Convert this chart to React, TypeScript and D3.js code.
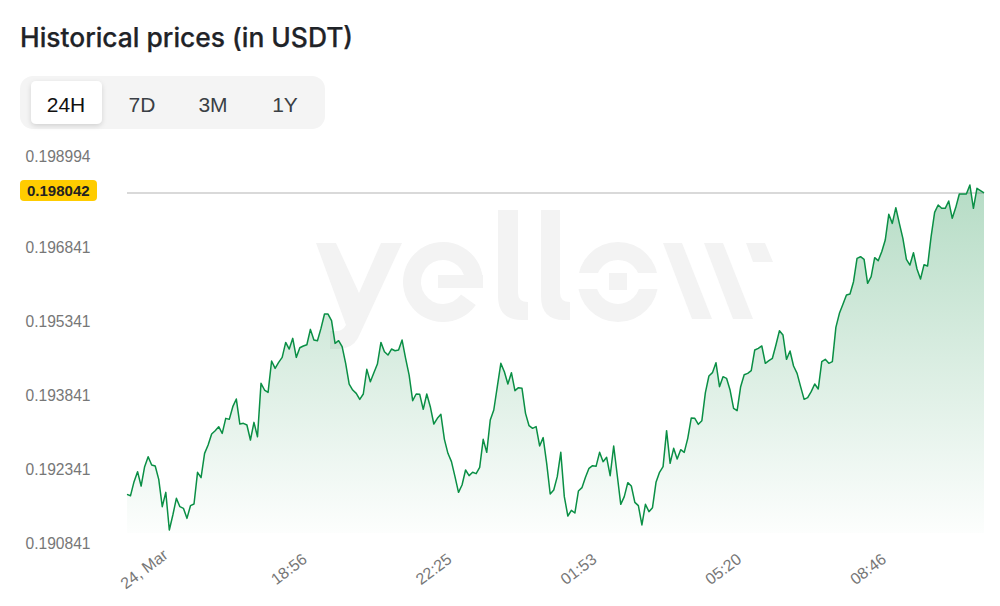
import { area, arc, line, scaleLinear, scaleOrdinal, scalePoint } from 'd3';

const W = 1000;
const H = 606;

// prices, in USDT
const prices = [
  0.191929, 0.191902, 0.192186, 0.192389, 0.192098, 0.19249, 0.192693, 0.192524, 0.192504, 0.192233,
  0.191679, 0.191969, 0.191206, 0.19151, 0.191848, 0.191679, 0.191645, 0.191442, 0.191699, 0.191733,
  0.192375, 0.192267, 0.19276, 0.192929, 0.193152, 0.19322, 0.193301, 0.193166, 0.19347, 0.19345,
  0.193707, 0.193862, 0.193355, 0.193369, 0.193335, 0.193031, 0.193389, 0.193098, 0.19418, 0.194045,
  0.193997, 0.194633, 0.194484, 0.194606, 0.194707, 0.195011, 0.194876, 0.195093, 0.194707, 0.194903,
  0.194937, 0.194964, 0.195275, 0.195059, 0.195045, 0.195295, 0.195586, 0.195586, 0.195451, 0.194991,
  0.195045, 0.194924, 0.194586, 0.194166, 0.194045, 0.193977, 0.193856, 0.193964, 0.194464, 0.194214,
  0.194396, 0.194572, 0.195011, 0.194822, 0.194755, 0.194876, 0.194842, 0.194856, 0.195059, 0.194687,
  0.194349, 0.193828, 0.193964, 0.193957, 0.193653, 0.193964, 0.193707, 0.193356, 0.193471, 0.193552,
  0.193045, 0.192761, 0.192592, 0.192288, 0.19197, 0.192119, 0.192423, 0.192308, 0.192376, 0.192349,
  0.192477, 0.193045, 0.192781, 0.193437, 0.19364, 0.194113, 0.194586, 0.194417, 0.194167, 0.194397,
  0.194032, 0.194093, 0.194079, 0.193572, 0.193322, 0.193268, 0.193302, 0.19291, 0.193079, 0.192558,
  0.191936, 0.192017, 0.192288, 0.192781, 0.191882, 0.19149, 0.191605, 0.191551, 0.191997, 0.192065,
  0.192274, 0.192457, 0.192511, 0.192497, 0.192781, 0.192592, 0.19268, 0.192308, 0.19291, 0.192322,
  0.191727, 0.191882, 0.192166, 0.192099, 0.191767, 0.1917, 0.191308, 0.191727, 0.191578, 0.191659,
  0.192173, 0.192376, 0.192491, 0.193221, 0.192558, 0.192862, 0.192646, 0.192835, 0.192781, 0.193065,
  0.193478, 0.193471, 0.193349, 0.193423, 0.193991, 0.194329, 0.194397, 0.1946, 0.194113, 0.194316,
  0.194282, 0.194045, 0.193674, 0.193626, 0.194113, 0.194356, 0.194383, 0.194437, 0.194857, 0.19489,
  0.194938, 0.194586, 0.19464, 0.194688, 0.194958, 0.195249, 0.195161, 0.194667, 0.194836, 0.194532,
  0.194383, 0.194113, 0.193856, 0.19389, 0.194012, 0.194167, 0.194066, 0.19462, 0.194667, 0.194586,
  0.19462, 0.195316, 0.1956, 0.195783, 0.195972, 0.195992, 0.196242, 0.196716, 0.196749, 0.196695,
  0.196209, 0.196344, 0.196729, 0.196668, 0.196851, 0.197087, 0.197608, 0.197425, 0.197743, 0.197425,
  0.197121, 0.196695, 0.19658, 0.196831, 0.196499, 0.196296, 0.196587, 0.19656, 0.197155, 0.197648,
  0.197797, 0.19773, 0.19773, 0.197878, 0.197527, 0.19775, 0.19802, 0.19802, 0.19802, 0.198203,
  0.19773, 0.198135, 0.198088, 0.198042,
];
const yTicks = [0.198994, 0.196841, 0.195341, 0.193841, 0.192341, 0.190841];
const xLabels = ['24, Mar', '18:56', '22:25', '01:53', '05:20', '08:46'];
const ranges = ['24H', '7D', '3M', '1Y'];
const currentPrice = 0.198042;

const x = scaleLinear().domain([0, prices.length - 1]).range([127, 984]);
const y = scaleLinear().domain([0.190841, 0.198994]).range([548, 146]);
const xLabel = scalePoint<string>().domain(xLabels).range([144, 868]);
const rangeX = scaleOrdinal<string, number>().domain(ranges).range([66, 142, 213, 285]);

const baseY = 533;
const priceLine = line<number>().x((_, i) => x(i)).y((d) => y(d));
const priceArea = area<number>().x((_, i) => x(i)).y0(baseY).y1((d) => y(d));

const deg = Math.PI / 180;
const logoE = arc()({ innerRadius: 22, outerRadius: 40, startAngle: 125 * deg, endAngle: 458 * deg }) as string;

const sans = '"Liberation Sans", Arial, sans-serif';
const head = 'Inter, "Noto Sans", sans-serif';
const logoColor = '#f3f3f3';

function Logo() {
  return (
    <g fill={logoColor}>
      <path d="M316 243H336L359 293L381 243H402L358 338Q352 349 338 349H330V331H336Q343 331 346 325Z" />
      <path d={logoE} transform="translate(443,282)" />
      <rect x={438} y={275} width={45} height={13} />
      <path d="M498 210H518V293Q518 302 528 302V320H522Q498 320 498 296Z" />
      <path d="M541 210H560V293Q560 302 570 302V320H564Q541 320 541 296Z" />
      <circle cx={618} cy={282} r={31} fill="none" stroke={logoColor} strokeWidth={18} />
      <rect x={577} y={273} width={82} height={16} fill="#fff" />
      <rect x={609} y={273} width={18} height={17} />
      <path d="M663 243H682L712 319H692Z" />
      <path d="M704 243H723L753 319H733Z" />
      <path d="M746 243H765L773 262H753Z" />
    </g>
  );
}

export default function App() {
  return (
    <svg width={W} height={H} style={{ position: 'absolute', left: 0, top: 0, background: '#fff' }}>
      <defs>
        <linearGradient id="fade" gradientUnits="userSpaceOnUse" x1={0} x2={0} y1={y(0.198203)} y2={baseY + 12}>
          <stop offset="0%" stopColor="#0a8a3e" stopOpacity={0.3} />
          <stop offset="100%" stopColor="#0a8a3e" stopOpacity={0} />
        </linearGradient>
        <filter id="btnShadow" x="-20%" y="-20%" width="140%" height="150%">
          <feDropShadow dx={0} dy={2} stdDeviation={2.5} floodColor="#000" floodOpacity={0.14} />
        </filter>
      </defs>

      <text x={20} y={47} fontFamily={head} fontSize={26.4} fontWeight={500} stroke="#1f2328" strokeWidth={0.25} fill="#1f2328">
        Historical prices (in USDT)
      </text>

      <rect x={20} y={76} width={305} height={53} rx={13} fill="#f4f4f4" />
      <rect x={31} y={81} width={71} height={43} rx={5} fill="#fff" filter="url(#btnShadow)" />
      {ranges.map((r, i) => (
        <text key={r} x={rangeX(r)} y={112} textAnchor="middle" fontFamily={sans} fontSize={21}
          fill={i === 0 ? '#111' : '#3a3f45'}>
          {r}
        </text>
      ))}

      <Logo />

      <line x1={127} x2={984} y1={y(currentPrice)} y2={y(currentPrice)} stroke="#d9d9d9" strokeWidth={2} />
      <path d={priceArea(prices) as string} fill="url(#fade)" />
      <path d={priceLine(prices) as string} fill="none" stroke="#0a8f45" strokeWidth={1.5} strokeLinejoin="round" />

      {yTicks.map((t) => (
        <text key={t} x={25.5} y={Math.max(y(t) - 4.5, 157)} dy="0.35em" fontFamily={sans} fontSize={15.6} fill="#777">
          {t.toFixed(6)}
        </text>
      ))}
      <rect x={20} y={y(currentPrice) - 13} width={77} height={21} rx={4} fill="#ffcc00" />
      <text x={27} y={y(currentPrice) - 2} dy="0.35em" fontFamily={sans} fontSize={15} fontWeight={700} fill="#222">
        {currentPrice.toFixed(6)}
      </text>

      {xLabels.map((l) => (
        <text key={l} transform={`translate(${xLabel(l)},569) rotate(-37)`} textAnchor="middle" dy="0.35em"
          fontFamily={sans} fontSize={16} fill="#777">
          {l}
        </text>
      ))}
    </svg>
  );
}
